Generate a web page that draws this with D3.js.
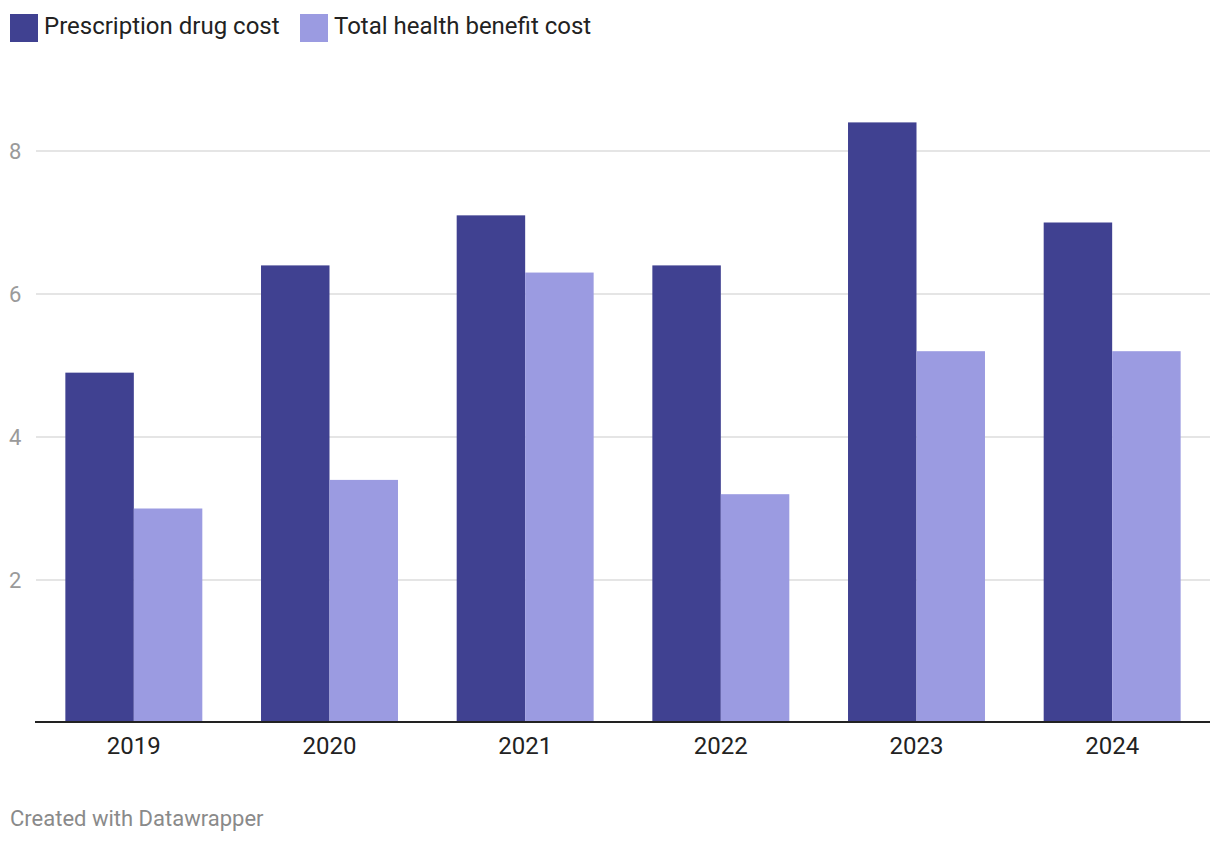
<!DOCTYPE html>
<html><head><meta charset="utf-8">
<script src="https://cdn.jsdelivr.net/npm/d3@7"></script>
<style>body{margin:0;background:#fff;font-family:Roboto,"Noto Sans",sans-serif;}</style>
</head><body><svg id="c" width="1220" height="844"></svg>
<script>
const years = ["2019","2020","2021","2022","2023","2024"];
const seriesNames = ["Prescription drug cost","Total health benefit cost"];
const drugCost = [4.9,6.4,7.1,6.4,8.4,7.0];
const benefitCost = [3.0,3.4,6.3,3.2,5.2,5.2];
const yTicks = [2,4,6,8];
const colors = ["#404191","#9b9be1"];

const svg = d3.select("#c");
const x = d3.scaleBand().domain(years).range([36,1210]).paddingInner(0.3).paddingOuter(0.15);
const x1 = d3.scaleBand().domain([0,1]).range([0,x.bandwidth()]);
const y = d3.scaleLinear().domain([0,8]).range([723,151]);

// grid
svg.append("g").selectAll("line").data(yTicks).join("line")
  .attr("x1",36).attr("x2",1210).attr("y1",d=>y(d)).attr("y2",d=>y(d))
  .attr("stroke","#e5e5e5").attr("stroke-width",2);
svg.append("g").selectAll("text").data(yTicks).join("text")
  .attr("x",9).attr("y",d=>y(d)).attr("dy","0.35em")
  .attr("font-size",22).attr("fill","#9a9a9a").text(d=>d);

const data = years.map((yr,i)=>({yr, vals:[drugCost[i],benefitCost[i]]}));
const g = svg.append("g").selectAll("g").data(data).join("g")
  .attr("transform",d=>`translate(${x(d.yr)},0)`);
g.selectAll("rect").data(d=>d.vals).join("rect")
  .attr("x",(d,i)=>x1(i)).attr("width",x1.bandwidth())
  .attr("y",d=>y(d)).attr("height",d=>y(0)-y(d))
  .attr("fill",(d,i)=>colors[i]);

// baseline
svg.append("line").attr("x1",35).attr("x2",1210).attr("y1",y(0)-1).attr("y2",y(0)-1)
  .attr("stroke","#222").attr("stroke-width",2);

svg.append("g").selectAll("text").data(years).join("text")
  .attr("x",d=>x(d)+x.bandwidth()/2).attr("y",746).attr("dy","0.35em").attr("text-anchor","middle")
  .attr("font-size",24).attr("fill","#222").text(d=>d);

// legend
const lx = [10,300];
const lg = svg.append("g").selectAll("g").data(seriesNames).join("g")
  .attr("transform",(d,i)=>`translate(${lx[i]},14)`);
lg.append("rect").attr("width",28).attr("height",28).attr("fill",(d,i)=>colors[i]);
lg.append("text").attr("x",34).attr("y",12).attr("dy","0.35em")
  .attr("font-size",24).attr("fill","#222").text(d=>d);

svg.append("text").attr("x",10).attr("y",818).attr("dy","0.35em").attr("font-size",22).attr("fill","#8a8a8a")
  .text("Created with Datawrapper");
</script></body></html>
